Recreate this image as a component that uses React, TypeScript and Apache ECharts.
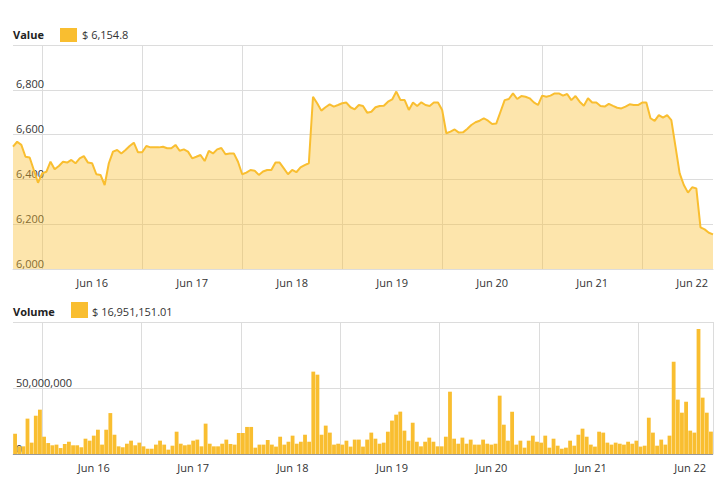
import { useEffect, useRef } from 'react';
import * as echarts from 'echarts';

// Hourly closing price (USD)
const PRICE = [
  6546, 6568, 6554, 6501, 6498, 6442, 6385, 6427, 6434, 6479,
  6445, 6460, 6479, 6475, 6487, 6472, 6494, 6504, 6475, 6472,
  6423, 6420, 6375, 6472, 6524, 6531, 6516, 6531, 6549, 6564,
  6521, 6521, 6549, 6543, 6543, 6543, 6546, 6539, 6539, 6554,
  6528, 6534, 6524, 6494, 6501, 6509, 6482, 6527, 6516, 6534,
  6540, 6512, 6516, 6516, 6479,
  6423, 6430, 6442, 6439, 6420,
  6435, 6442, 6442, 6475, 6475, 6449, 6423, 6442, 6432, 6454,
  6464, 6472, 6769, 6740, 6707, 6722, 6735, 6725, 6732, 6740,
  6743, 6722, 6713, 6732, 6728, 6698, 6702, 6722, 6728, 6729,
  6747, 6757, 6792, 6754, 6754, 6710, 6743, 6728, 6744, 6732,
  6728, 6743, 6743, 6710, 6606, 6613, 6623, 6609, 6610, 6625,
  6643, 6655, 6662, 6673, 6662, 6647, 6650, 6702, 6754, 6759,
  6784, 6759, 6772, 6769, 6762, 6744, 6732, 6774, 6769, 6774,
  6784, 6784, 6774, 6781, 6754, 6772, 6747, 6729, 6762, 6743,
  6743, 6728, 6725, 6737, 6728, 6720, 6717, 6725, 6735, 6732,
  6732, 6743, 6743, 6673, 6661, 6687, 6676, 6687, 6665, 6546,
  6427, 6375, 6341, 6365, 6360, 6186, 6177, 6162, 6154.8,
];

// Hourly volume, in millions of USD
const VOLUME_M = [
  15.4, 5.8, 5.8, 26.8, 8.6, 29, 33.6, 13.1, 8.3, 6.6,
  7.1, 4.5, 7.6, 9.3, 6.6, 6.6, 5.1, 11.6, 10.1, 13.9,
  18.4, 7.1, 18.4, 31, 14.6, 5.8, 5.1, 7.8, 10.1, 6.6,
  8.6, 5.8, 4.0, 4.0, 7.1, 10.1, 7.1, 3.3, 6.3, 16.9,
  7.8, 6.6, 7.1, 10.1, 10.9, 5.8, 23, 7.8, 5.8, 5.8,
  7.8, 10.9, 7.6, 7.1, 15.9,
  15.9, 20.5, 20.5, 4.8, 7.1,
  7.1, 10.6, 7.1, 5.6, 13.1, 7.1, 9.3, 13.9, 7.8, 9.3,
  14.6, 9.3, 62.4, 60.1, 14.6, 21.5, 16.2, 7.1, 7.8, 7.1,
  10.1, 5.6, 10.9, 10.9, 5.6, 10.9, 16.2, 11.6, 7.8, 8.6,
  16.9, 25.3, 29.8, 32.1, 17.7, 10.1, 23.7, 9.3, 5.8, 9.3,
  12.4, 9.3, 5.8, 5.8, 13.1, 47.2, 11.6, 7.8, 12.4, 7.8,
  10.9, 7.1, 7.1, 10.9, 7.8, 7.1, 7.8, 44.2, 22.2, 10.1,
  32.1, 7.1, 10.1, 4.8, 10.1, 13.9, 9.3, 8.6, 13.9, 4.8,
  11.6, 6.3, 4.0, 4.8, 10.1, 6.3, 14.6, 19.2, 13.1, 7.1,
  5.6, 16.9, 16.2, 8.6, 7.1, 8.6, 7.8, 7.1, 9.3, 7.8,
  10.1, 5.6, 6.3, 27.5, 16.2, 6.3, 10.9, 7.1, 13.9, 69.9,
  41.2, 31.3, 39.6, 17.7, 16.2, 94.7, 42.7, 31.3, 16.95115101,
];

const START_UTC = Date.UTC(2018, 5, 15, 5);
const MONTHS = ['Jan', 'Feb', 'Mar', 'Apr', 'May', 'Jun', 'Jul', 'Aug', 'Sep', 'Oct', 'Nov', 'Dec'];
const CATEGORIES = PRICE.map((_, i) => {
  const d = new Date(START_UTC + i * 3600000);
  return `${MONTHS[d.getUTCMonth()]} ${d.getUTCDate()} ${String(d.getUTCHours()).padStart(2, '0')}:00`;
});

const PRICE_LEGEND = '$ 6,154.8';
const VOLUME_LEGEND = '$ 16,951,151.01';

const FONT = '"Open Sans", sans-serif';
const YELLOW = '#f9be30';
const GRID_COLOR = '#dcdcdc';
const TEXT = '#333';

const isMidnight = (_: number, v: string) => v.endsWith(' 00:00');
const isNoon = (_: number, v: string) => v.endsWith(' 12:00');
const dayLabel = (v: string) => v.split(' ').slice(0, 2).join(' ');

function makeXAxis(gridIndex: number, boundaryGap: boolean) {
  return {
    type: 'category',
    gridIndex,
    data: CATEGORIES,
    boundaryGap,
    axisLine: { show: true, lineStyle: { color: GRID_COLOR } },
    axisTick: { show: false },
    axisLabel: {
      interval: isMidnight,
      formatter: dayLabel,
      color: TEXT,
      fontSize: 11,
      fontFamily: FONT,
      margin: 8,
    },
    splitLine: { show: true, interval: isNoon, lineStyle: { color: GRID_COLOR } },
  };
}

export default function App() {
  const ref = useRef<HTMLDivElement>(null);
  useEffect(() => {
    if (!ref.current) return;
    const chart = echarts.init(ref.current, null, { renderer: 'svg' });
    const yLabel = {
      inside: true,
      showMaxLabel: false,
      verticalAlign: 'bottom',
      align: 'left',
      margin: 3,
      lineHeight: 12,
      color: TEXT,
      fontSize: 11,
      fontFamily: FONT,
    };
    chart.setOption({
      animation: false,
      backgroundColor: '#fff',
      textStyle: { fontFamily: FONT },
      grid: [
        { left: 13, right: 9, top: 45, height: 224 },
        { left: 13, right: 9, top: 322, height: 132 },
      ],
      xAxis: [makeXAxis(0, false), makeXAxis(1, true)],
      yAxis: [
        {
          type: 'value',
          gridIndex: 0,
          min: 6000,
          max: 7000,
          interval: 200,
          axisLine: { show: false },
          axisTick: { show: false },
          axisLabel: { ...yLabel, formatter: (v: number) => v.toLocaleString('en-US') },
          splitLine: { lineStyle: { color: GRID_COLOR } },
        },
        {
          type: 'value',
          gridIndex: 1,
          min: 0,
          max: 100,
          interval: 50,
          axisLine: { show: false },
          axisTick: { show: false },
          axisLabel: { ...yLabel, formatter: (v: number) => (v * 1000000).toLocaleString('en-US') },
          splitLine: { lineStyle: { color: GRID_COLOR } },
        },
      ],
      series: [
        {
          type: 'line',
          name: 'Value',
          xAxisIndex: 0,
          yAxisIndex: 0,
          data: PRICE,
          symbol: 'none',
          lineStyle: { color: YELLOW, width: 2 },
          itemStyle: { color: YELLOW },
          areaStyle: { color: YELLOW, opacity: 0.4 },
        },
        {
          type: 'bar',
          name: 'Volume',
          xAxisIndex: 1,
          yAxisIndex: 1,
          data: VOLUME_M,
          barCategoryGap: '8%',
          itemStyle: { color: YELLOW },
          markLine: {
            silent: true,
            symbol: 'none',
            label: { show: false },
            lineStyle: { color: 'rgba(0,0,0,0.3)', type: 'solid', width: 1 },
            data: [{ yAxis: 0 }],
          },
        },
      ],
      graphic: [
        { type: 'text', x: 13, y: 34, style: { text: 'Value', fontSize: 11, fontWeight: 'bold', fontFamily: FONT, fill: '#222', verticalAlign: 'middle' } },
        { type: 'rect', shape: { x: 60, y: 28, width: 17, height: 14 }, style: { fill: YELLOW } },
        { type: 'text', x: 82, y: 34, style: { text: PRICE_LEGEND, fontSize: 11, fontFamily: FONT, fill: '#333', verticalAlign: 'middle' } },
        { type: 'text', x: 13, y: 311, style: { text: 'Volume', fontSize: 11, fontWeight: 'bold', fontFamily: FONT, fill: '#222', verticalAlign: 'middle' } },
        { type: 'rect', shape: { x: 71, y: 302, width: 17, height: 16 }, style: { fill: YELLOW } },
        { type: 'text', x: 92, y: 311, style: { text: VOLUME_LEGEND, fontSize: 11, fontFamily: FONT, fill: '#333', verticalAlign: 'middle' } },
      ],
    });
    return () => chart.dispose();
  }, []);
  return (
    <div
      ref={ref}
      style={{ position: 'fixed', left: 0, top: 0, width: 722, height: 484, background: '#fff' }}
    />
  );
}
